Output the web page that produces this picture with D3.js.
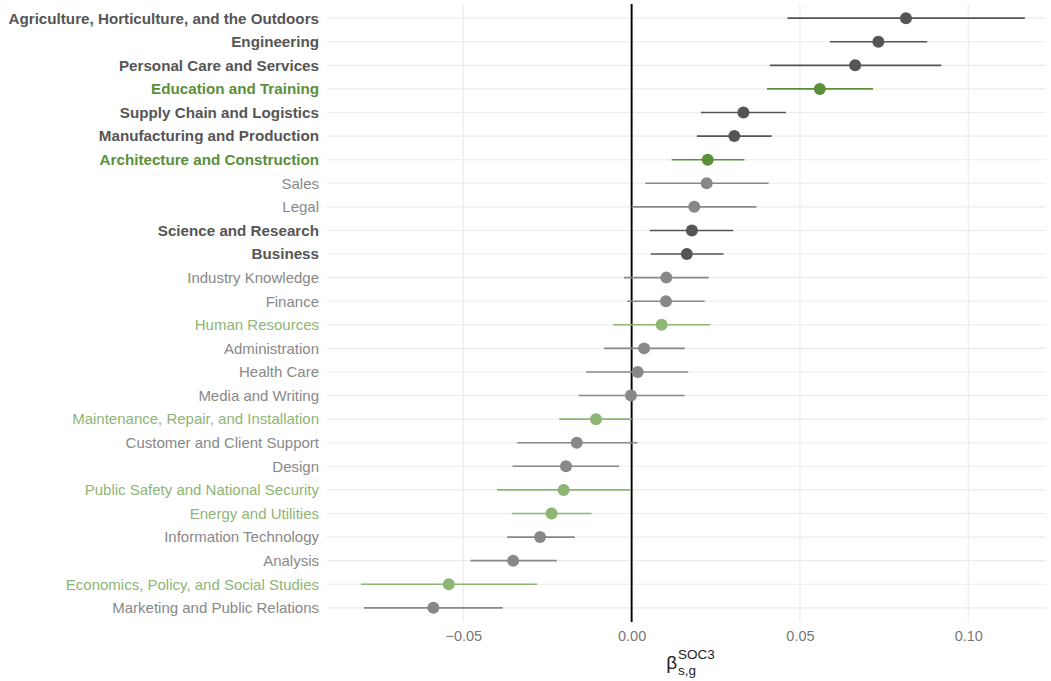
<!DOCTYPE html>
<html>
<head>
<meta charset="utf-8">
<script src="https://cdn.jsdelivr.net/npm/d3@7"></script>
<style>
  html, body { margin: 0; padding: 0; background: #fff; }
  svg { display: block; font-family: "Liberation Sans", Arial, sans-serif; }
</style>
</head>
<body>
<svg id="chart" width="1051" height="681"></svg>
<script>
const categories = [
  "Agriculture, Horticulture, and the Outdoors",
  "Engineering",
  "Personal Care and Services",
  "Education and Training",
  "Supply Chain and Logistics",
  "Manufacturing and Production",
  "Architecture and Construction",
  "Sales",
  "Legal",
  "Science and Research",
  "Business",
  "Industry Knowledge",
  "Finance",
  "Human Resources",
  "Administration",
  "Health Care",
  "Media and Writing",
  "Maintenance, Repair, and Installation",
  "Customer and Client Support",
  "Design",
  "Public Safety and National Security",
  "Energy and Utilities",
  "Information Technology",
  "Analysis",
  "Economics, Policy, and Social Studies",
  "Marketing and Public Relations"
];
const estimates = [0.0815, 0.0733, 0.0664, 0.0559, 0.0332, 0.0305, 0.0226, 0.0223, 0.0186, 0.0179, 0.0164, 0.0103, 0.0102, 0.0089, 0.0037, 0.0018, -0.0002, -0.0106, -0.0163, -0.0195, -0.0202, -0.0238, -0.0272, -0.0352, -0.0543, -0.0589];
const lower = [0.0463, 0.0589, 0.0411, 0.0402, 0.0206, 0.0194, 0.0119, 0.0040, 0.0000, 0.0054, 0.0057, -0.0023, -0.0013, -0.0055, -0.0082, -0.0135, -0.0158, -0.0215, -0.0340, -0.0354, -0.0400, -0.0356, -0.0370, -0.0479, -0.0804, -0.0795];
const upper = [0.1168, 0.0878, 0.0920, 0.0717, 0.0458, 0.0416, 0.0335, 0.0407, 0.0371, 0.0302, 0.0273, 0.0229, 0.0217, 0.0234, 0.0158, 0.0168, 0.0158, 0.0000, 0.0017, -0.0037, -0.0003, -0.0119, -0.0169, -0.0222, -0.0281, -0.0383];
const groups = ["dark","dark","dark","green","dark","dark","green","gray","gray","dark","dark","gray","gray","lightgreen","gray","gray","gray","lightgreen","gray","gray","lightgreen","lightgreen","gray","gray","lightgreen","gray"];
const xTicks = [-0.05, 0.00, 0.05, 0.10];
const xTickLabels = ["\u22120.05", "0.00", "0.05", "0.10"];

const colorOf = { dark: "#555555", green: "#5b8f3a", gray: "#888888", lightgreen: "#8db574" };
const boldOf = { dark: true, green: true, gray: false, lightgreen: false };

const rows = categories.map((c, i) => ({ cat: c, est: estimates[i], lo: lower[i], hi: upper[i], grp: groups[i] }));

const svg = d3.select("#chart");
const panel = { left: 327, right: 1046, top: 4, bottom: 622 };

const x = d3.scaleLinear().domain([-0.0905, 0.1231]).range([panel.left, panel.right]);
const y = d3.scalePoint().domain(categories).range([panel.top, panel.bottom]).padding(0.6);

// gridlines
const g = svg.append("g");
g.selectAll("line.hgrid").data(categories).join("line")
  .attr("class", "hgrid")
  .attr("x1", panel.left).attr("x2", panel.right)
  .attr("y1", d => y(d)).attr("y2", d => y(d))
  .attr("stroke", "#ebebeb").attr("stroke-width", 1.1);
g.selectAll("line.vgrid").data(xTicks).join("line")
  .attr("class", "vgrid")
  .attr("x1", d => x(d)).attr("x2", d => x(d))
  .attr("y1", panel.top).attr("y2", panel.bottom)
  .attr("stroke", "#ebebeb").attr("stroke-width", 1.1);

// zero line
g.append("line")
  .attr("x1", x(0)).attr("x2", x(0))
  .attr("y1", panel.top).attr("y2", panel.bottom)
  .attr("stroke", "#000").attr("stroke-width", 1.9);

// CI lines
g.selectAll("line.ci").data(rows).join("line")
  .attr("class", "ci")
  .attr("x1", d => x(d.lo)).attr("x2", d => x(d.hi))
  .attr("y1", d => y(d.cat)).attr("y2", d => y(d.cat))
  .attr("stroke", d => colorOf[d.grp]).attr("stroke-width", 1.6);

// points
g.selectAll("circle.pt").data(rows).join("circle")
  .attr("class", "pt")
  .attr("cx", d => x(d.est)).attr("cy", d => y(d.cat)).attr("r", 6)
  .attr("fill", d => colorOf[d.grp]);

// y labels
const yAxis = d3.axisLeft(y).tickSize(0).tickPadding(8);
const ya = svg.append("g").attr("transform", `translate(${panel.left},0)`).call(yAxis);
ya.select(".domain").remove();
ya.selectAll(".tick text")
  .attr("font-size", d => boldOf[groups[categories.indexOf(d)]] ? 15.2 : 15)
  .attr("font-family", "Liberation Sans, Arial, sans-serif")
  .attr("fill", d => colorOf[groups[categories.indexOf(d)]])
  .attr("font-weight", d => boldOf[groups[categories.indexOf(d)]] ? "bold" : "normal");

// x axis
const xAxis = d3.axisBottom(x).tickValues(xTicks).tickSize(0).tickPadding(9)
  .tickFormat((d, i) => xTickLabels[i]);
const xa = svg.append("g").attr("transform", `translate(0,${panel.bottom})`).call(xAxis);
xa.select(".domain").remove();
xa.selectAll(".tick text")
  .attr("font-size", 14.5)
  .attr("font-family", "Liberation Sans, Arial, sans-serif")
  .attr("fill", "#777777");

// axis title: beta with sub/superscript
const cx = (panel.left + panel.right) / 2;
const title = svg.append("g").attr("fill", "#222");
const beta = title.append("text").attr("y", 669).attr("font-size", 19).text("\u03b2");
const bw = beta.node().getComputedTextLength();
const sup = title.append("text").attr("y", 659).attr("font-size", 13.5).text("SOC3");
const sub = title.append("text").attr("y", 675).attr("font-size", 13.5).text("s,g");
const sw = Math.max(sup.node().getComputedTextLength(), sub.node().getComputedTextLength());
const total = bw + 1 + sw;
const x0 = cx - total / 2 + 4;
beta.attr("x", x0);
sup.attr("x", x0 + bw + 1);
sub.attr("x", x0 + bw + 1);
</script>
</body>
</html>
